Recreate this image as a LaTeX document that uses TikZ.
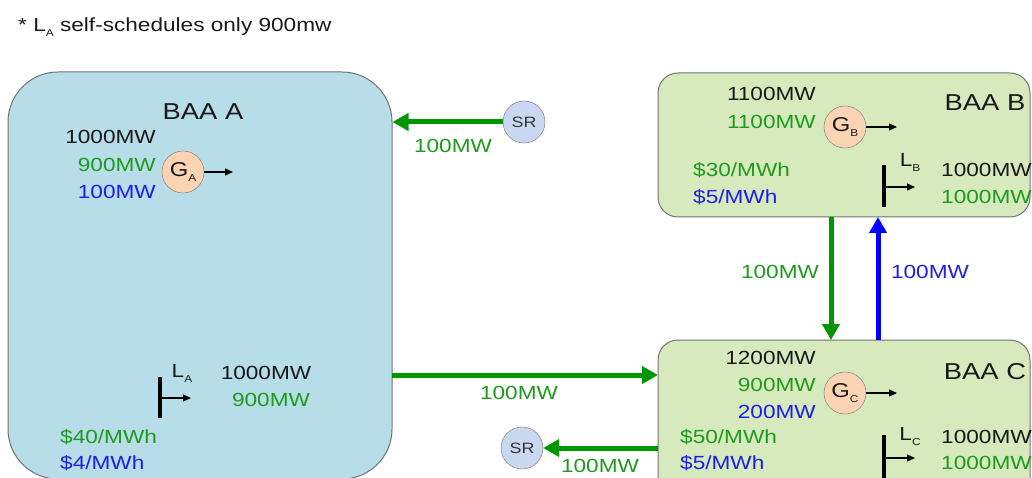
\documentclass[tikz,border=0pt]{standalone}
\usepackage{fontspec}
\setmainfont{Liberation Sans}[FakeStretch=1.19]
\usepackage{tikz}
\usetikzlibrary{arrows.meta,positioning}

\definecolor{baablue}{RGB}{183,221,232}
\definecolor{baagreen}{RGB}{215,234,190}
\definecolor{gpeach}{RGB}{251,212,180}
\definecolor{srblue}{RGB}{201,216,240}
\definecolor{flowgreen}{RGB}{0,150,0}
\definecolor{txtgreen}{RGB}{30,155,30}
\definecolor{txtblue}{RGB}{30,30,235}
\newcommand{\lowidx}[1]{\raisebox{-5pt}{\fontsize{10}{10}\selectfont #1}}

\tikzset{
  baabox/.style={draw=black!55, line width=1pt, rounded corners=#1, inner sep=0pt},
  gen/.style={draw=black!55, fill=gpeach, circle, minimum size=42pt, inner sep=0pt, text=black!90, font=\fontsize{20}{22}\selectfont},
  srnode/.style={draw=black!55, fill=srblue, circle, minimum size=42pt, inner sep=0pt, text=black!80, font=\fontsize{15}{18}\selectfont},
  mw/.style={inner sep=0pt, text=black!90, font=\fontsize{19}{21}\selectfont},
  flow/.style={line width=5pt, -{Triangle[length=16pt,width=17pt]}},
  genout/.style={line width=1.2pt, -{Triangle[length=8pt,width=7pt]}},
  loadbar/.style={line width=4pt},
}

\begin{document}
\begin{tikzpicture}[x=1pt,y=-1pt]
        \clip (0,0) rectangle (1032,478);
        % areas
        \node[baabox=50, fill=baablue, minimum width=384pt, minimum height=407pt] (boxA) at (200,275.5) {};
        \node[baabox=20, fill=baagreen, minimum width=372pt, minimum height=144pt] (boxB) at (844,145) {};
        \node[baabox=20, fill=baagreen, minimum width=372pt, minimum height=160pt] (boxC) at (844,420) {};

        \node[mw, anchor=west] (note) at (18,27) {* L\lowidx{A} self-schedules only 900mw};

        % BAA A
        \begin{scope}[every node/.style={mw}]
          \node[font=\fontsize{23}{25}\selectfont] (nameA) at (203,112) {BAA A};
          \node[anchor=east] (capA) at (156,137) {1000MW};
          \node[anchor=east, text=txtgreen] (enA) at (156,165) {900MW};
          \node[anchor=east, text=txtblue] (resA) at (156,192) {100MW};
          \node (lA) at (182,373) {L\lowidx{A}};
          \node (ldA) at (266,373) {1000MW};
          \node[text=txtgreen] (ldsA) at (271,400) {900MW};
          \node[anchor=west, text=txtgreen] (prA) at (60,437) {\$40/MWh};
          \node[anchor=west, text=txtblue] (rprA) at (60,463) {\$4/MWh};
        \end{scope}
        \node[gen] (gA) at (183,172) {G\lowidx{A}};
        \coordinate (gAout) at (233,172);
        \draw[genout] (gA) -- (gAout);
        \coordinate (barAtop) at (160,377);
        \coordinate (barAbot) at (160,418);
        \coordinate (barAmid) at (160,398);
        \coordinate (barAout) at (191,398);
        \draw[loadbar] (barAtop) -- (barAbot);
        \draw[genout] (barAmid) -- (barAout);

        % BAA B
        \begin{scope}[every node/.style={mw}]
          \node[font=\fontsize{23}{25}\selectfont] (nameB) at (985,103) {BAA B};
          \node[anchor=east] (capB) at (816,94) {1100MW};
          \node[anchor=east, text=txtgreen] (enB) at (816,122) {1100MW};
          \node[anchor=west, text=txtgreen] (prB) at (693,170) {\$30/MWh};
          \node[anchor=west, text=txtblue] (rprB) at (693,197) {\$5/MWh};
          \node (lB) at (910,162) {L\lowidx{B}};
          \node[anchor=west] (ldB) at (941,170) {1000MW};
          \node[anchor=west, text=txtgreen] (ldsB) at (941,197) {1000MW};
        \end{scope}
        \node[gen] (gB) at (845,127) {G\lowidx{B}};
        \coordinate (gBout) at (897,127);
        \draw[genout] (gB) -- (gBout);
        \coordinate (barBtop) at (884,165);
        \coordinate (barBbot) at (884,207);
        \coordinate (barBmid) at (884,187);
        \coordinate (barBout) at (915,187);
        \draw[loadbar] (barBtop) -- (barBbot);
        \draw[genout] (barBmid) -- (barBout);

        % BAA C
        \begin{scope}[every node/.style={mw}]
          \node[font=\fontsize{23}{25}\selectfont] (nameC) at (985,372) {BAA C};
          \node[anchor=east] (capC) at (816,358) {1200MW};
          \node[anchor=east, text=txtgreen] (enC) at (816,385) {900MW};
          \node[anchor=east, text=txtblue] (resC) at (816,412) {200MW};
          \node[anchor=west, text=txtgreen] (prC) at (680,437) {\$50/MWh};
          \node[anchor=west, text=txtblue] (rprC) at (680,463) {\$5/MWh};
          \node (lC) at (910,437) {L\lowidx{C}};
          \node[anchor=west] (ldC) at (941,437) {1000MW};
          \node[anchor=west, text=txtgreen] (ldsC) at (941,463) {1000MW};
        \end{scope}
        \node[gen] (gC) at (845,393) {G\lowidx{C}};
        \coordinate (gCout) at (897,393);
        \draw[genout] (gC) -- (gCout);
        \coordinate (barCtop) at (884,435);
        \coordinate (barCbot) at (884,478);
        \coordinate (barCmid) at (884,458);
        \coordinate (barCout) at (915,458);
        \draw[loadbar] (barCtop) -- (barCbot);
        \draw[genout] (barCmid) -- (barCout);

        % interchanges
        \node[srnode] (srA) at (524,122) {SR};
        \node[srnode] (srC) at (522,448) {SR};
        \begin{scope}[every node/.style={mw, text=txtgreen}]
          \node (fSR) at (453,146) {100MW};
          \node (fAC) at (519,393) {100MW};
          \node (fCS) at (600,466) {100MW};
          \node (fBC) at (780,272) {100MW};
          \node[text=txtblue] (fCB) at (930,272) {100MW};
        \end{scope}
        \coordinate (acout) at (392,375);
        \coordinate (acin) at (658,375);
        \coordinate (csout) at (658,448);
        \coordinate (bcout) at (831,217);
        \coordinate (bcin) at (831,340);
        \coordinate (cbout) at (878,340);
        \coordinate (cbin) at (878,217);
        \draw[flow, flowgreen] (srA) -- (srA -| boxA.east);
        \draw[flow, flowgreen] (acout) -- (acin);
        \draw[flow, flowgreen] (csout) -- (srC);
        \draw[flow, flowgreen] (bcout) -- (bcin);
        \draw[flow, blue] (cbout) -- (cbin);
      \end{tikzpicture}
\end{document}
